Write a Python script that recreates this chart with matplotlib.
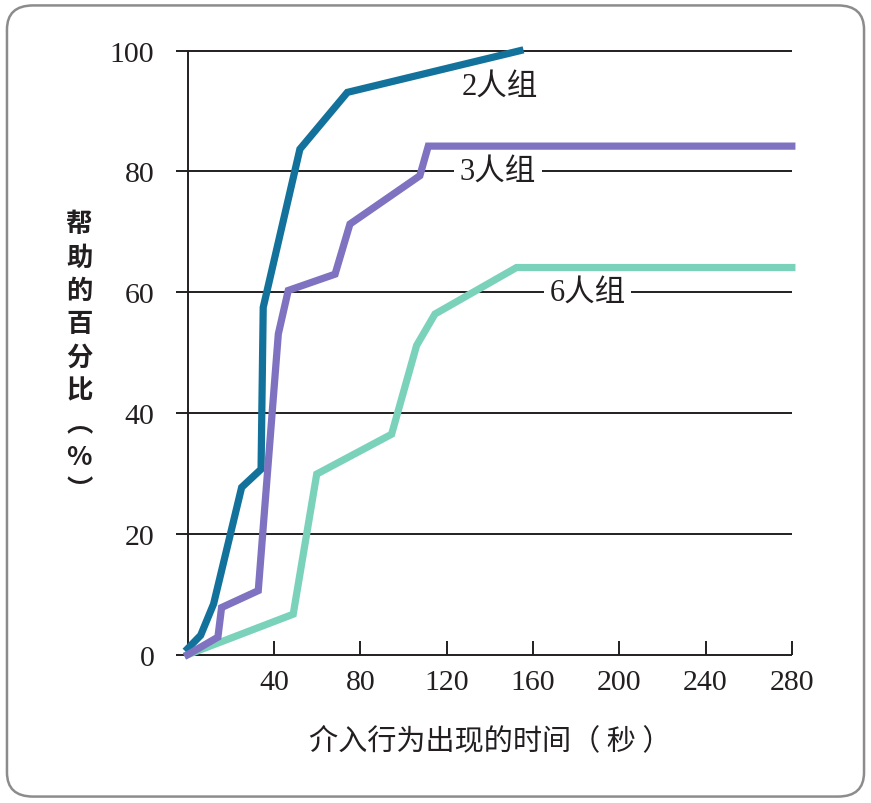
import matplotlib
matplotlib.use("Agg")
import matplotlib.pyplot as plt
from matplotlib.patches import FancyBboxPatch

plt.rcParams['font.family'] = ['Noto Sans CJK SC', 'DejaVu Sans']

# data
x_two = [0, 6, 12, 25, 34, 35, 52, 74, 154]
y_two = [1, 3.2, 8.4, 27.7, 30.7, 57.5, 83.7, 93.1, 100]

x_three = [0, 14, 15.7, 32.7, 42, 46.6, 68.3, 75.2, 107.6, 111.5, 280]
y_three = [0, 2.9, 7.8, 10.6, 53.1, 60.3, 63, 71.3, 79.3, 84.2, 84.2]

x_six = [0, 48.9, 59.8, 94.5, 106.1, 114.6, 152.4, 280]
y_six = [0, 6.7, 29.9, 36.5, 51.2, 56.4, 64.1, 64.1]

x_ticks = [40, 80, 120, 160, 200, 240, 280]
y_ticks = [0, 20, 40, 60, 80, 100]

group_labels = ["2人组", "3人组", "6人组"]
label_pos = [(144.7, 94.2), (143.8, 80), (185.5, 60)]

c_two = "#13729b"
c_three = "#7f72c0"
c_six = "#7bd2ba"
ink = "#231f20"

fig = plt.figure(figsize=(8.71, 8.04), dpi=100)
fig.patches.append(FancyBboxPatch((0.008, 0.008), 0.984, 0.984,
                                  boxstyle="round,pad=0,rounding_size=0.03",
                                  transform=fig.transFigure, fill=False,
                                  edgecolor="#8c8c8c", linewidth=1.8))

ax = fig.add_axes([0.2155, 0.1845, 0.6936, 0.7512])
ax.set_xlim(0, 280)
ax.set_ylim(0, 100)

# horizontal grid lines, poking out left of the y axis
for yv in y_ticks:
    ax.plot([-5.5, 280], [yv, yv], color=ink, lw=1.4, clip_on=False, zorder=1,
            solid_capstyle="butt")

for sp in ["top", "right", "bottom"]:
    ax.spines[sp].set_visible(False)
ax.spines["left"].set_color(ink)
ax.spines["left"].set_linewidth(1.4)
ax.spines["left"].set_zorder(1)

ax.plot(x_two, y_two, color=c_two, lw=5.2, zorder=4, clip_on=False,
        solid_joinstyle="miter")
ax.plot(x_three, y_three, color=c_three, lw=5.2, zorder=4, clip_on=False,
        solid_joinstyle="miter")
ax.plot(x_six, y_six, color=c_six, lw=5.2, zorder=3, clip_on=False,
        solid_joinstyle="miter")

for txt, (tx, ty) in zip(group_labels, label_pos):
    ax.text(tx, ty, txt, ha="center", va="center", fontsize=22,
            family=['Liberation Serif', 'Noto Sans CJK SC'], color=ink,
            zorder=2, bbox=dict(facecolor="white", edgecolor="none", pad=4))

ax.set_xticks(x_ticks)
ax.set_yticks(y_ticks)
ax.tick_params(axis="x", direction="in", length=10, width=1.4, color=ink,
               pad=10, labelsize=21.5, labelcolor=ink)
ax.tick_params(axis="y", length=0, pad=24, labelsize=21.5, labelcolor=ink)
for lab in ax.get_xticklabels() + ax.get_yticklabels():
    lab.set_family('Liberation Serif')

ax.set_xlabel("介入行为出现的时间（ 秒 ）", fontsize=21, color=ink, labelpad=22)
fig.text(0.091, 0.555, "\n".join("帮助的百分比︵%︶"), ha="center", va="center",
         fontsize=19, fontweight="bold", color=ink, linespacing=1.3)

fig.savefig("out.png", dpi=100)
